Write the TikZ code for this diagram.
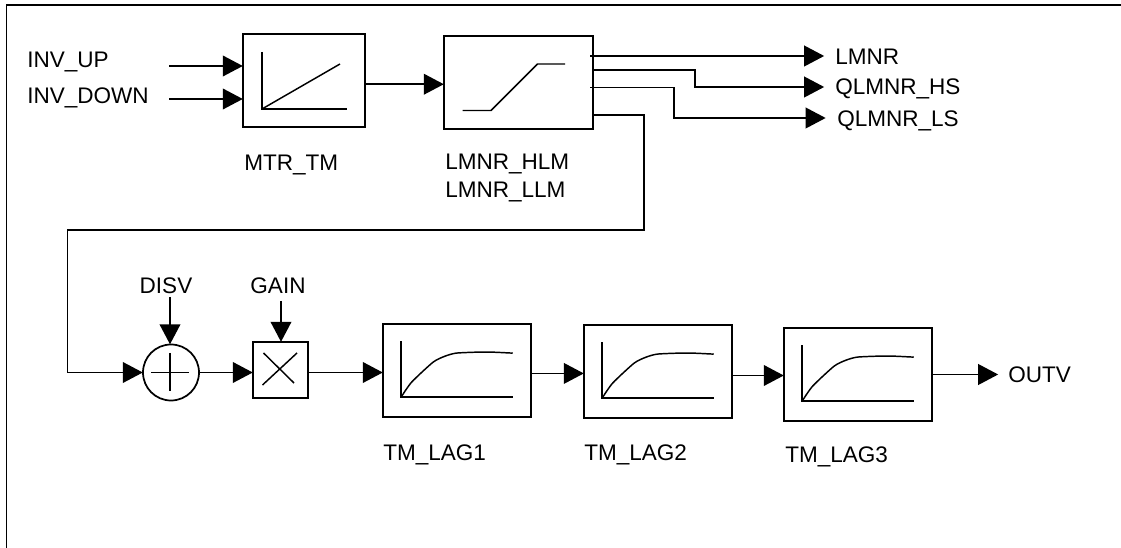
\documentclass[tikz,border=0pt]{standalone}
\usepackage{fontspec}
\setmainfont{Liberation Sans}
\usetikzlibrary{positioning,arrows.meta}

\begin{document}
\begin{tikzpicture}[
  x=0.75pt, y=-0.75pt,
  font=\fontsize{16.9}{20}\selectfont,
  wire/.style={draw=black, line width=1.3pt},
  arr/.style={wire, -{Triangle[length=15pt, width=15.5pt]}, shorten >=-0.5pt},
  box/.style={draw=black, line width=1.3pt, inner sep=0pt},
  rampbox/.style={box, minimum width=91.5pt, minimum height=69.75pt},
  limbox/.style={box, minimum width=111.75pt, minimum height=69.75pt},
  lagbox/.style={box, minimum width=111pt, minimum height=69.75pt},
  sumnode/.style={box, circle, minimum size=42pt},
  mulbox/.style={box, minimum width=41.25pt, minimum height=42pt},
  lbl/.style={inner sep=0pt, anchor=base west},
  toplbl/.style={inner sep=0pt, anchor=base},
  glyph/.style={draw=black, line width=1.1pt}]
\useasboundingbox (0,0) rectangle (1121,548);

% outer frame, only two sides show
\coordinate (frameb) at (6.5,548);
\coordinate (framec) at (6.5,5);
\coordinate (framer) at (1121,5);
\draw[wire] (frameb) -- (framec) -- (framer);

% blocks
\node[rampbox] (mtr) at (304,80.5) {};
\node[limbox] (lmnr) at (518.5,82.5) {};
\node[sumnode] (sum) at (171,372.5) {};
\node[mulbox] (mul) at (280.5,370) {};
\node[lagbox] (lag1) at (457,370.5) {};
\node[lagbox] (lag2) at (658,371.5) {};
\node[lagbox] (lag3) at (858,374.5) {};

% labels
\node[lbl] (invup) at (27,67.5) {INV\_UP};
\node[lbl] (invdown) at (27,104) {INV\_DOWN};
\node[lbl] (mtrname) at (244,171) {MTR\_TM};
\node[lbl] (hlm) at (445,170) {LMNR\_HLM};
\node[lbl] (llm) at (445,198) {LMNR\_LLM};
\node[lbl] (outlmnr) at (835,65) {LMNR};
\node[lbl] (ouths) at (835,95) {QLMNR\_HS};
\node[lbl] (outls) at (837,126.5) {QLMNR\_LS};
\node[toplbl] (disv) at (166,294) {DISV};
\node[toplbl] (gain) at (278,294) {GAIN};
\node[lbl] (lag1name) at (383,461) {TM\_LAG1};
\node[lbl] (lag2name) at (584,461) {TM\_LAG2};
\node[lbl] (lag3name) at (785,463) {TM\_LAG3};
\node[lbl] (outv) at (1008,382.5) {OUTV};

% free ends of the wires
\coordinate (upst) at (169,66);
\coordinate (downst) at (169,99);
\coordinate (disvst) at (170,297);
\coordinate (gainst) at (281,301);
\coordinate (lmnrst) at (590,56);
\coordinate (lmnrend) at (823.5,56);
\coordinate (hsst) at (593,70);
\coordinate (hsa) at (695,70);
\coordinate (hsb) at (695,87);
\coordinate (hsend) at (823.5,87);
\coordinate (lsst) at (590,87.5);
\coordinate (lsa) at (674,87.5);
\coordinate (lsb) at (674,118);
\coordinate (lsend) at (825,118);
\coordinate (fbst) at (594,115);
\coordinate (fba) at (644,115);
\coordinate (fbb) at (644,230);
\coordinate (fbc) at (67.5,230);
\coordinate (fbd) at (67.5,372.5);
\coordinate (outvend) at (997.5,374.5);

% inputs and forward path
\draw[arr] (upst) -- (upst -| mtr.west);
\draw[arr] (downst) -- (downst -| mtr.west);
\draw[arr] ([yshift=-1.3pt]mtr.east |- lmnr.west) -- ([yshift=-1.3pt]lmnr.west);
\draw[arr] (lmnrst) -- (lmnrend);
\draw[arr] (hsst) -- (hsa) -- (hsb) -- (hsend);
\draw[arr] (lsst) -- (lsa) -- (lsb) -- (lsend);
\draw[arr] (fbst) -- (fba) -- (fbb) -- (fbc) -- (fbd) -- (sum.west);
\draw[arr] (disvst) -- (disvst |- sum.north);
\draw[arr] (gainst) -- (gainst |- mul.north);
\draw[arr] (sum.east) -- (sum.east -| mul.west);
\draw[arr] (mul.east |- sum.east) -- (sum.east -| lag1.west);
\draw[arr] ([yshift=-2.2pt]lag1.east) -- ([yshift=-2.2pt]lag1.east -| lag2.west);
\draw[arr] ([yshift=-3pt]lag2.east) -- ([yshift=-3pt]lag2.east -| lag3.west);
\draw[arr] (lag3.east) -- (outvend);

% symbols inside the blocks
\draw[glyph] (262,52) -- (262,109) -- (347,109);
\draw[glyph] (262,109) -- (340,64);
\draw[glyph] (462.5,110.5) -- (491,110.5) -- (537.5,64) -- (565,64);
\draw[glyph] (151,372.5) -- (189,372.5);
\draw[glyph] (170,353) -- (170,391);
\draw[glyph] (262.5,385) -- (297,353);
\draw[glyph] (263.5,353) -- (294,383);

\foreach \b in {lag1,lag2,lag3} {
  \begin{scope}[shift={(\b.north west)}]
    \draw[glyph] (19,18) -- (19,74) -- (130.6,74);
    \draw[glyph] plot[smooth, tension=0.4] coordinates
      {(19,74) (29.5,59) (51,39) (63,33) (74,30) (95.6,29) (110,29) (130.6,30)};
  \end{scope}
}
\end{tikzpicture}
\end{document}
